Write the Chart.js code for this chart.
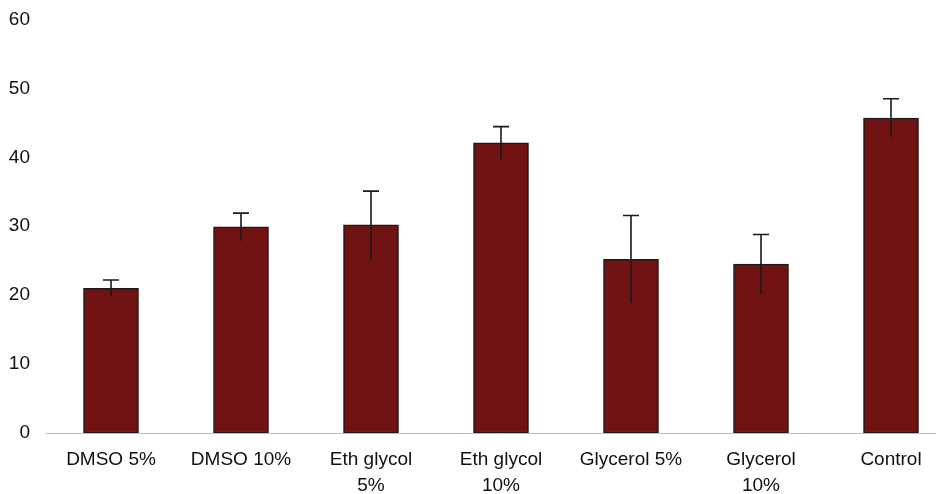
<!DOCTYPE html>
<html lang="en">
<head>
  <meta charset="UTF-8">
  <title>Cryoprotectant comparison</title>
  <script src="https://cdn.jsdelivr.net/npm/chart.js"></script>
  <style>
    html, body { margin: 0; padding: 0; background: #fff; overflow: hidden; }
    .chart-container { width: 956px; height: 494px; }
  </style>
</head>
<body>
  <div class="chart-container">
    <canvas id="barChart"></canvas>
  </div>

  <script>
    // values
    const categories = [
      ['DMSO 5%'], ['DMSO 10%'], ['Eth glycol', '5%'], ['Eth glycol', '10%'],
      ['Glycerol 5%'], ['Glycerol', '10%'], ['Control']
    ];
    const means = [21.0, 29.9, 30.2, 42.1, 25.2, 24.5, 45.7];
    const errors = [1.2, 2.0, 4.9, 2.35, 6.35, 4.3, 2.8];
    const yTicks = [0, 10, 20, 30, 40, 50, 60];

    // draws the error bars from the y scale
    const errorBars = {
      id: 'errorBars',
      afterDatasetsDraw(chart) {
        const ctx = chart.ctx;
        const y = chart.scales.y;
        const meta = chart.getDatasetMeta(0);
        ctx.save();
        ctx.strokeStyle = '#1a1a1a';
        ctx.lineWidth = 1.6;
        meta.data.forEach((bar, i) => {
          const top = y.getPixelForValue(means[i] + errors[i]);
          const bottom = y.getPixelForValue(means[i] - errors[i]);
          ctx.beginPath();
          ctx.moveTo(bar.x, top);
          ctx.lineTo(bar.x, bottom);
          ctx.moveTo(bar.x - 8, top);
          ctx.lineTo(bar.x + 8, top);
          ctx.stroke();
        });
        ctx.restore();
      }
    };

    const ctx = document.getElementById('barChart').getContext('2d');
    new Chart(ctx, {
      type: 'bar',
      data: {
        labels: categories,
        datasets: [{
          data: means,
          backgroundColor: '#721313',
          borderColor: '#1a1a1a',
          borderWidth: 1.5,
          borderSkipped: false,
          barThickness: 55
        }]
      },
      options: {
        responsive: true,
        maintainAspectRatio: false,
        animation: false,
        layout: { padding: 0 },
        plugins: {
          legend: { display: false },
          tooltip: { enabled: false }
        },
        scales: {
          x: {
            grid: { display: false, drawTicks: false },
            border: { display: true, color: '#bdb5e0', width: 1 },
            ticks: {
              color: '#111',
              padding: 14,
              maxRotation: 0,
              autoSkip: false,
              font: { family: 'Liberation Sans', size: 19, lineHeight: 1.37 }
            },
            afterFit(scale) { scale.height = 61; }
          },
          y: {
            min: 0,
            max: 60,
            grid: { display: false, drawTicks: false },
            border: { display: false },
            afterBuildTicks(scale) { scale.ticks = yTicks.map(v => ({ value: v })); },
            ticks: {
              color: '#111',
              padding: 16,
              font: { family: 'Liberation Sans', size: 19 }
            },
            afterFit(scale) {
              scale.width = 46;
              scale.paddingTop = 19.5;
            }
          }
        }
      },
      plugins: [errorBars]
    });
  </script>
</body>
</html>
